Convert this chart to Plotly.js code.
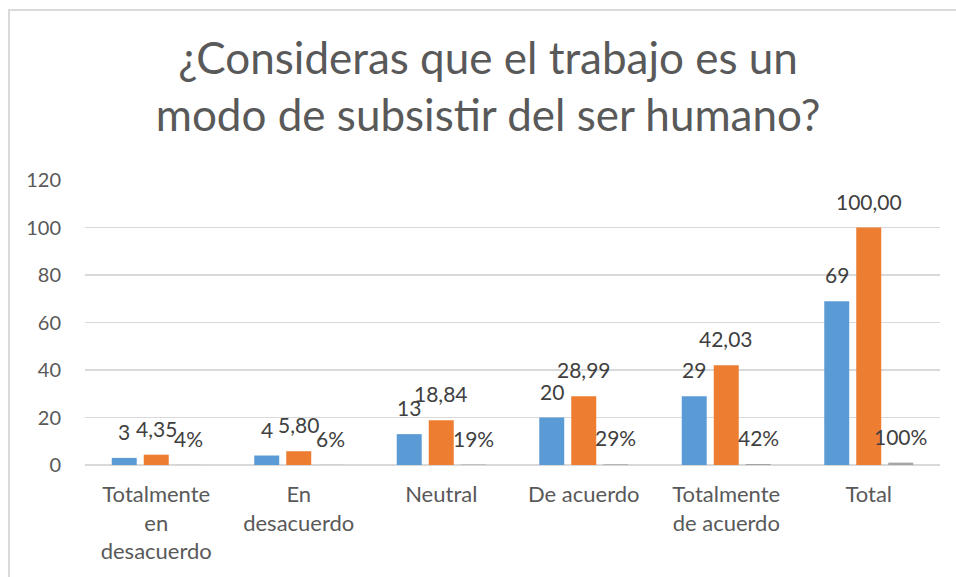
<!DOCTYPE html>
<html>
<head>
<meta charset="utf-8">
<script src="https://cdn.plot.ly/plotly-3.0.1.min.js"></script>
<style>
  html, body { margin: 0; padding: 0; background: #ffffff; }
  #wrap { position: relative; width: 956px; height: 577px; overflow: hidden; }
  #chart { position: absolute; left: 0; top: 0; width: 956px; height: 577px; }
  #frame { position: absolute; left: 8px; top: 9px; width: 1000px; height: 1000px;
           border-left: 2px solid #D9D9D9; border-top: 2px solid #D9D9D9; pointer-events: none; }
</style>
</head>
<body>
<div id="wrap">
  <div id="chart"></div>
  <div id="frame"></div>
</div>
<script>
// ---- Data ----
const categories = ["Totalmente<br>en<br>desacuerdo", "En<br>desacuerdo", "Neutral", "De acuerdo", "Totalmente<br>de acuerdo", "Total"];
const frecuencia = [3, 4, 13, 20, 29, 69];
const porcentaje = [4.35, 5.80, 18.84, 28.99, 42.03, 100.00];
const proporcion = [0.04, 0.06, 0.19, 0.29, 0.42, 1.00];
const yTicks = [0, 20, 40, 60, 80, 100, 120];

// ---- Styling ----
const FONT = "Lato, 'Open Sans', sans-serif";
const colors = ["#5B9BD5", "#ED7D31", "#A5A5A5"];
const bargap = 0.326;
const nSeries = 3;
const slot = (1 - bargap) / nSeries;

const series = [
  { name: "Frecuencia", y: frecuencia, fmt: v => String(Math.round(v)) },
  { name: "Porcentaje", y: porcentaje, fmt: v => v.toFixed(2).replace(".", ",") },
  { name: "Proporción", y: proporcion, fmt: v => Math.round(v * 100) + "%" }
];

const traces = series.map((s, k) => ({
  type: "bar",
  name: s.name,
  x: categories,
  y: s.y,
  marker: { color: colors[k] },
  hoverinfo: "skip"
}));

const annotations = [];
series.forEach((s, k) => {
  s.y.forEach((v, i) => {
    annotations.push({
      x: i + (k - (nSeries - 1) / 2) * slot,
      y: v,
      xref: "x", yref: "y",
      text: s.fmt(v),
      showarrow: false,
      xanchor: "center",
      yanchor: "bottom",
      yshift: 12,
      font: { family: FONT, size: 21, color: "#404040" }
    });
  });
});

const layout = {
  width: 956, height: 577,
  margin: { l: 85, r: 15.5, t: 180, b: 112, pad: 0 },
  paper_bgcolor: "#ffffff",
  plot_bgcolor: "#ffffff",
  showlegend: false,
  barmode: "group",
  bargap: bargap,
  bargroupgap: 0.22,
  title: {
    text: "¿Consideras que el trabajo es un<br>modo de subsistir del ser humano?",
    font: { family: FONT, size: 44, color: "#595959" },
    x: 0.5105, xanchor: "center",
    y: 0.872, yanchor: "top"
  },
  xaxis: {
    type: "category",
    showgrid: false,
    showline: false,
    zeroline: false,
    ticks: "",
    tickfont: { family: FONT, size: 22, color: "#595959" },
    ticklabelstandoff: 14
  },
  yaxis: {
    range: [0, 120],
    tickvals: yTicks,
    ticktext: yTicks.map(String),
    showgrid: true,
    gridcolor: "#D9D9D9",
    gridwidth: 1.5,
    zeroline: true,
    zerolinecolor: "#D9D9D9",
    zerolinewidth: 1.5,
    showline: false,
    ticks: "",
    tickfont: { family: FONT, size: 20, color: "#595959" },
    ticklabelstandoff: 23
  },
  annotations: annotations,
  hovermode: false
};

Plotly.newPlot("chart", traces, layout, { displayModeBar: false, staticPlot: true });
</script>
</body>
</html>
